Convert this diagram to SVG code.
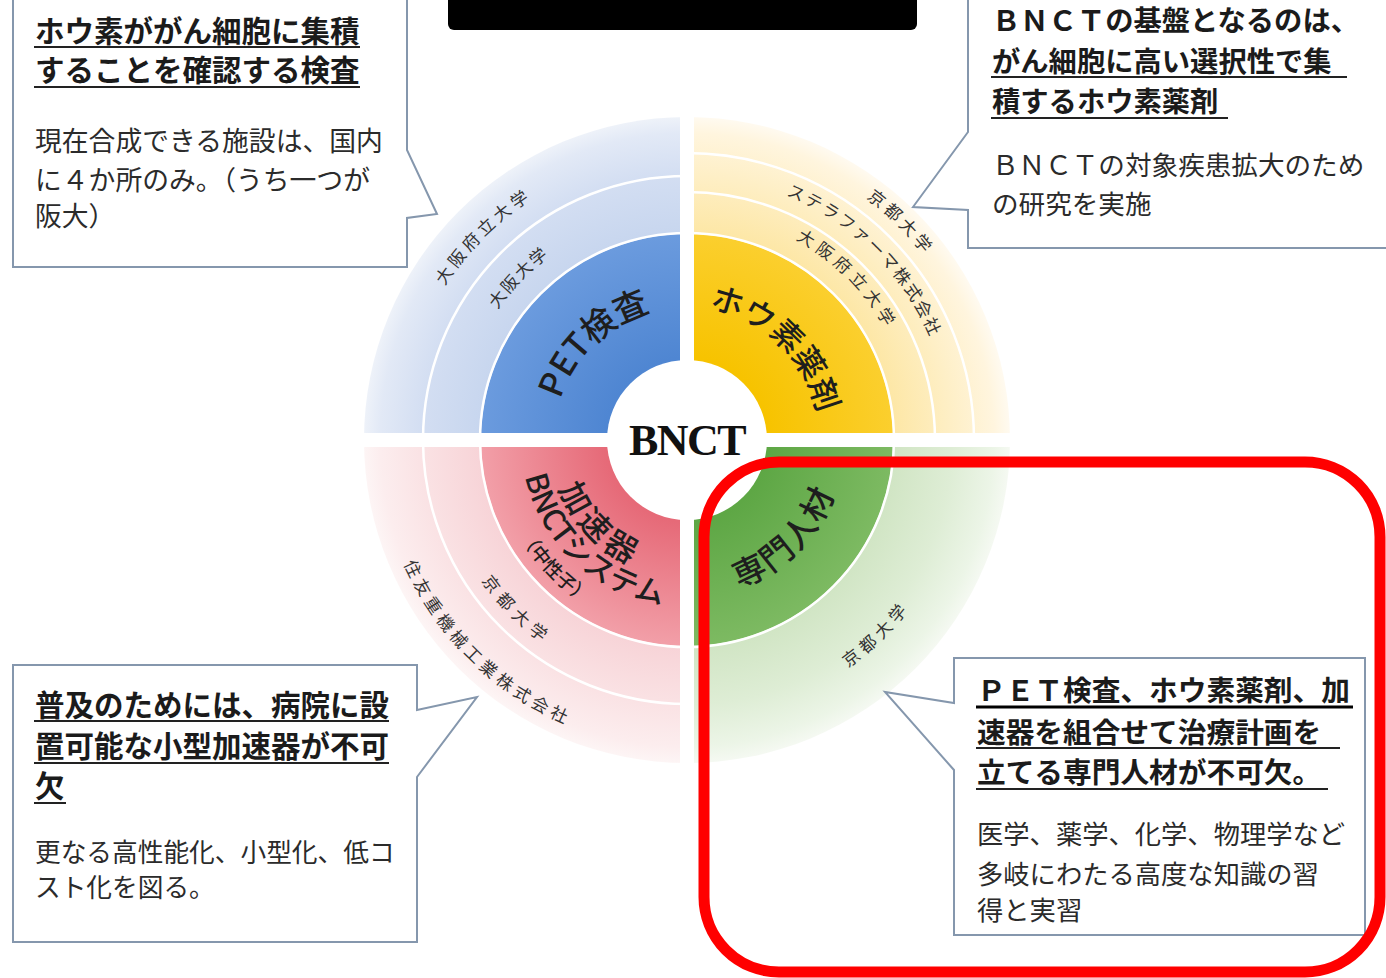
<svg xmlns="http://www.w3.org/2000/svg" xmlns:xlink="http://www.w3.org/1999/xlink" width="1386" height="978" viewBox="0 0 1386 978">
<style>
text{font-family:"Noto Sans CJK JP","Noto Sans CJK SC",sans-serif}
.ttl{font-weight:700;fill:#1b1b1b}
.bd{font-weight:400;fill:#2b2b2b}
.ql{font-weight:500;fill:#1e1e1e;text-anchor:middle}
.sl{font-weight:400;fill:#333;font-size:17px;text-anchor:middle}
.ul{stroke:#222;stroke-width:2}
.co{fill:#fff;stroke:#8597ad;stroke-width:2;stroke-linejoin:miter}
.sep{fill:none;stroke:#fff;stroke-width:2.5}
</style>
<defs>
<radialGradient id="gBL" gradientUnits="userSpaceOnUse" cx="687" cy="440" r="323"><stop offset="0.62" stop-color="#c6d5ee"/><stop offset="0.82" stop-color="#d3def2"/><stop offset="0.95" stop-color="#e2e9f6"/><stop offset="1" stop-color="#eef2f9"/></radialGradient>
<radialGradient id="gBD" gradientUnits="userSpaceOnUse" cx="687" cy="440" r="206"><stop offset="0.4" stop-color="#4f86d2"/><stop offset="1" stop-color="#6b9bde"/></radialGradient>
<radialGradient id="gYL" gradientUnits="userSpaceOnUse" cx="687" cy="440" r="323"><stop offset="0.62" stop-color="#fde6a2"/><stop offset="0.82" stop-color="#feefc6"/><stop offset="0.95" stop-color="#fff5de"/><stop offset="1" stop-color="#fffaf0"/></radialGradient>
<radialGradient id="gYD" gradientUnits="userSpaceOnUse" cx="687" cy="440" r="206"><stop offset="0.4" stop-color="#f7c300"/><stop offset="1" stop-color="#fbcf2e"/></radialGradient>
<radialGradient id="gRL" gradientUnits="userSpaceOnUse" cx="687" cy="440" r="323"><stop offset="0.62" stop-color="#f7d2d6"/><stop offset="0.82" stop-color="#fae2e4"/><stop offset="0.95" stop-color="#fcedee"/><stop offset="1" stop-color="#fdf5f5"/></radialGradient>
<radialGradient id="gRD" gradientUnits="userSpaceOnUse" cx="687" cy="440" r="206"><stop offset="0.4" stop-color="#e66a78"/><stop offset="1" stop-color="#f29fa8"/></radialGradient>
<radialGradient id="gGL" gradientUnits="userSpaceOnUse" cx="687" cy="440" r="323"><stop offset="0.62" stop-color="#cfe4c2"/><stop offset="0.82" stop-color="#deedd5"/><stop offset="0.95" stop-color="#ecf5e7"/><stop offset="1" stop-color="#f5f9f2"/></radialGradient>
<radialGradient id="gGD" gradientUnits="userSpaceOnUse" cx="687" cy="440" r="206"><stop offset="0.4" stop-color="#5ea745"/><stop offset="1" stop-color="#7dba62"/></radialGradient>
<!-- arcs for labels: top type (clockwise, centred at -90deg) -->
<path id="t133" d="M562.02,394.51 A133,133 0 0 1 811.98,394.51"/>
<path id="t287" d="M417.31,341.85 A287,287 0 0 1 956.69,341.85"/>
<path id="t230" d="M470.87,361.34 A230,230 0 0 1 903.13,361.34"/>
<path id="t228" d="M472.75,362.02 A228,228 0 0 1 901.25,362.02"/>
<path id="t264" d="M438.92,349.71 A264,264 0 0 1 935.08,349.71"/>
<path id="t301" d="M404.15,337.06 A301,301 0 0 1 969.85,337.06"/>
<!-- bottom type (counter-clockwise, centred at +90deg) -->
<path id="b137" d="M558.26,486.85 A137,137 0 0 0 815.74,486.85"/>
<path id="b166" d="M531.01,496.77 A166,166 0 0 0 842.99,496.77"/>
<path id="b193" d="M505.64,506.01 A193,193 0 0 0 868.36,506.01"/>
<path id="b249" d="M453.01,525.16 A249,249 0 0 0 920.99,525.16"/>
<path id="b309" d="M396.63,545.68 A309,309 0 0 0 977.37,545.68"/>
<path id="b157" d="M539.47,493.69 A157,157 0 0 0 834.53,493.69"/>
<path id="b279" d="M424.82,535.42 A279,279 0 0 0 949.18,535.42"/>
</defs>
<rect width="1386" height="978" fill="#fff"/>

<!-- title bar (cut off at top) -->
<rect id="titlebar" x="448" y="-20" width="469" height="50" rx="6" fill="#000"/>

<!-- central wheel -->
<g id="wheel">
  <g id="q-pet">
    <path d="M687,440 L364,440 A323,323 0 0 1 687,117 Z" fill="url(#gBL)"/>
    <path d="M687,440 L481,440 A206,206 0 0 1 687,234 Z" fill="url(#gBD)"/>
    <path class="sep" d="M423,440 A264,264 0 0 1 687,176"/>
  </g>
  <g id="q-boron">
    <path d="M687,440 L687,117 A323,323 0 0 1 1010,440 Z" fill="url(#gYL)"/>
    <path d="M687,440 L687,234 A206,206 0 0 1 893,440 Z" fill="url(#gYD)"/>
    <path class="sep" d="M687,192 A248,248 0 0 1 935,440"/>
    <path class="sep" d="M687,153 A287,287 0 0 1 974,440"/>
  </g>
  <g id="q-staff">
    <path d="M687,440 L1010,440 A323,323 0 0 1 687,763 Z" fill="url(#gGL)"/>
    <path d="M687,440 L893,440 A206,206 0 0 1 687,646 Z" fill="url(#gGD)"/>
  </g>
  <g id="q-accel">
    <path d="M687,440 L687,763 A323,323 0 0 1 364,440 Z" fill="url(#gRL)"/>
    <path d="M687,440 L687,646 A206,206 0 0 1 481,440 Z" fill="url(#gRD)"/>
    <path class="sep" d="M687,704 A264,264 0 0 1 423,440"/>
  </g>
  <circle cx="687" cy="440" r="207" fill="none" stroke="#fff" stroke-width="2.5"/>
  <rect x="680" y="100" width="14" height="680" fill="#fff"/>
  <rect x="350" y="433" width="680" height="14" fill="#fff"/>
  <circle cx="687" cy="440" r="80" fill="#fff"/>
  <text x="687" y="455" text-anchor="middle" style="font-family:'Liberation Serif',serif;font-weight:700;font-size:44px;letter-spacing:-1.5px" fill="#111">BNCT</text>

  <!-- blue labels -->
  <g transform="rotate(-44 687 440)"><text class="ql" style="font-size:34px"><textPath xlink:href="#t133" href="#t133" startOffset="50%">PET検査</textPath></text></g>
  <g transform="rotate(-45 687 440)"><text class="sl" style="letter-spacing:4px"><textPath xlink:href="#t287" href="#t287" startOffset="50%">大阪府立大学</textPath></text></g>
  <g transform="rotate(-46 687 440)"><text class="sl" style="letter-spacing:2px"><textPath xlink:href="#t230" href="#t230" startOffset="50%">大阪大学</textPath></text></g>
  <!-- yellow labels -->
  <g transform="rotate(44 687 440)"><text class="ql" style="font-size:32px"><textPath xlink:href="#t133" href="#t133" startOffset="50%">ホウ素薬剤</textPath></text></g>
  <g transform="rotate(45 687 440)"><text class="sl" style="letter-spacing:5px"><textPath xlink:href="#t228" href="#t228" startOffset="50%">大阪府立大学</textPath></text></g>
  <g transform="rotate(44.7 687 440)"><text class="sl" style="letter-spacing:2px"><textPath xlink:href="#t264" href="#t264" startOffset="50%">ステラファーマ株式会社</textPath></text></g>
  <g transform="rotate(44.5 687 440)"><text class="sl" style="letter-spacing:4px"><textPath xlink:href="#t301" href="#t301" startOffset="50%">京都大学</textPath></text></g>
  <!-- red labels -->
  <g transform="rotate(46 687 440)"><text class="ql" style="font-size:32px;letter-spacing:5px"><textPath xlink:href="#b137" href="#b137" startOffset="50%">加速器</textPath></text></g>
  <g transform="rotate(43 687 440)"><text class="ql" style="font-size:30px"><textPath xlink:href="#b166" href="#b166" startOffset="50%">BNCTシステム</textPath></text></g>
  <g transform="rotate(46 687 440)"><text class="ql" style="font-size:19px"><textPath xlink:href="#b193" href="#b193" startOffset="50%">（中性子）</textPath></text></g>
  <g transform="rotate(45 687 440)"><text class="sl" style="letter-spacing:6px"><textPath xlink:href="#b249" href="#b249" startOffset="50%">京都大学</textPath></text></g>
  <g transform="rotate(44.5 687 440)"><text class="sl" style="letter-spacing:4.5px"><textPath xlink:href="#b309" href="#b309" startOffset="50%">住友重機械工業株式会社</textPath></text></g>
  <!-- green labels -->
  <g transform="rotate(-45 687 440)"><text class="ql" style="font-size:33px;letter-spacing:2px"><textPath xlink:href="#b157" href="#b157" startOffset="50%">専門人材</textPath></text></g>
  <g transform="rotate(-44.3 687 440)"><text class="sl" style="letter-spacing:5px"><textPath xlink:href="#b279" href="#b279" startOffset="50%">京都大学</textPath></text></g>
</g>

<!-- callouts -->
<g id="callout-pet">
  <path class="co" d="M13,-5 L407,-5 L407,150 L437,214 L407,218 L407,267 L13,267 Z"/>
  <text class="ttl" x="35" y="42" style="font-size:29.5px">ホウ素ががん細胞に集積</text>
  <text class="ttl" x="35" y="81" style="font-size:29.5px">することを確認する検査</text>
  <line class="ul" x1="34" y1="47" x2="360" y2="47"/>
  <line class="ul" x1="34" y1="87" x2="360" y2="87"/>
  <text class="bd" x="35" y="151" style="font-size:26.8px">現在合成できる施設は、国内</text>
  <text class="bd" x="35" y="190" style="font-size:26.8px">に４か所のみ。（うち一つが</text>
  <text class="bd" x="35" y="226" style="font-size:26.8px">阪大）</text>
</g>

<g id="callout-boron">
  <path class="co" d="M1392,-5 L968,-5 L968,132 L913,207 L968,210 L968,248 L1392,248"/>
  <text class="ttl" x="992" y="31" style="font-size:28.3px">ＢＮＣＴの基盤となるのは、</text>
  <text class="ttl" x="992" y="72" style="font-size:28.3px">がん細胞に高い選択性で集</text>
  <text class="ttl" x="992" y="112" style="font-size:28.3px">積するホウ素薬剤</text>
  <line class="ul" x1="991" y1="77" x2="1347" y2="77"/>
  <line class="ul" x1="991" y1="118" x2="1228" y2="118"/>
  <text class="bd" x="992" y="175" style="font-size:26.6px">ＢＮＣＴの対象疾患拡大のため</text>
  <text class="bd" x="992" y="214" style="font-size:26.6px">の研究を実施</text>
</g>

<g id="callout-accel">
  <path class="co" d="M13,665 L417,665 L417,710 L477,697 L417,777 L417,942 L13,942 Z"/>
  <text class="ttl" x="35" y="716" style="font-size:29.5px">普及のためには、病院に設</text>
  <text class="ttl" x="35" y="757" style="font-size:29.5px">置可能な小型加速器が不可</text>
  <text class="ttl" x="35" y="797" style="font-size:29.5px">欠</text>
  <line class="ul" x1="34" y1="721" x2="389" y2="721"/>
  <line class="ul" x1="34" y1="763" x2="389" y2="763"/>
  <line class="ul" x1="34" y1="803" x2="66" y2="803"/>
  <text class="bd" x="35" y="862" style="font-size:25.7px">更なる高性能化、小型化、低コ</text>
  <text class="bd" x="35" y="897" style="font-size:25.7px">スト化を図る。</text>
</g>

<g id="callout-staff">
  <path class="co" d="M954,658 L1365,658 L1365,935 L954,935 L954,770 L885,692 L954,703 Z"/>
  <text class="ttl" x="977" y="701" style="font-size:28.7px">ＰＥＴ検査、ホウ素薬剤、加</text>
  <text class="ttl" x="977" y="743" style="font-size:28.7px">速器を組合せて治療計画を</text>
  <text class="ttl" x="977" y="783" style="font-size:28.7px">立てる専門人材が不可欠。</text>
  <line x1="976" y1="707" x2="1353" y2="707" stroke="#000" stroke-width="3"/>
  <line class="ul" x1="976" y1="748" x2="1340" y2="748"/>
  <line class="ul" x1="976" y1="789" x2="1328" y2="789"/>
  <text class="bd" x="977" y="844" style="font-size:26.3px">医学、薬学、化学、物理学など</text>
  <text class="bd" x="977" y="884" style="font-size:26.3px">多岐にわたる高度な知識の習</text>
  <text class="bd" x="977" y="920" style="font-size:26.3px">得と実習</text>
</g>

<!-- red highlight frame -->
<rect id="highlight" x="704" y="462" width="676" height="510" rx="75" ry="75" fill="none" stroke="#ff0000" stroke-width="11"/>
</svg>
